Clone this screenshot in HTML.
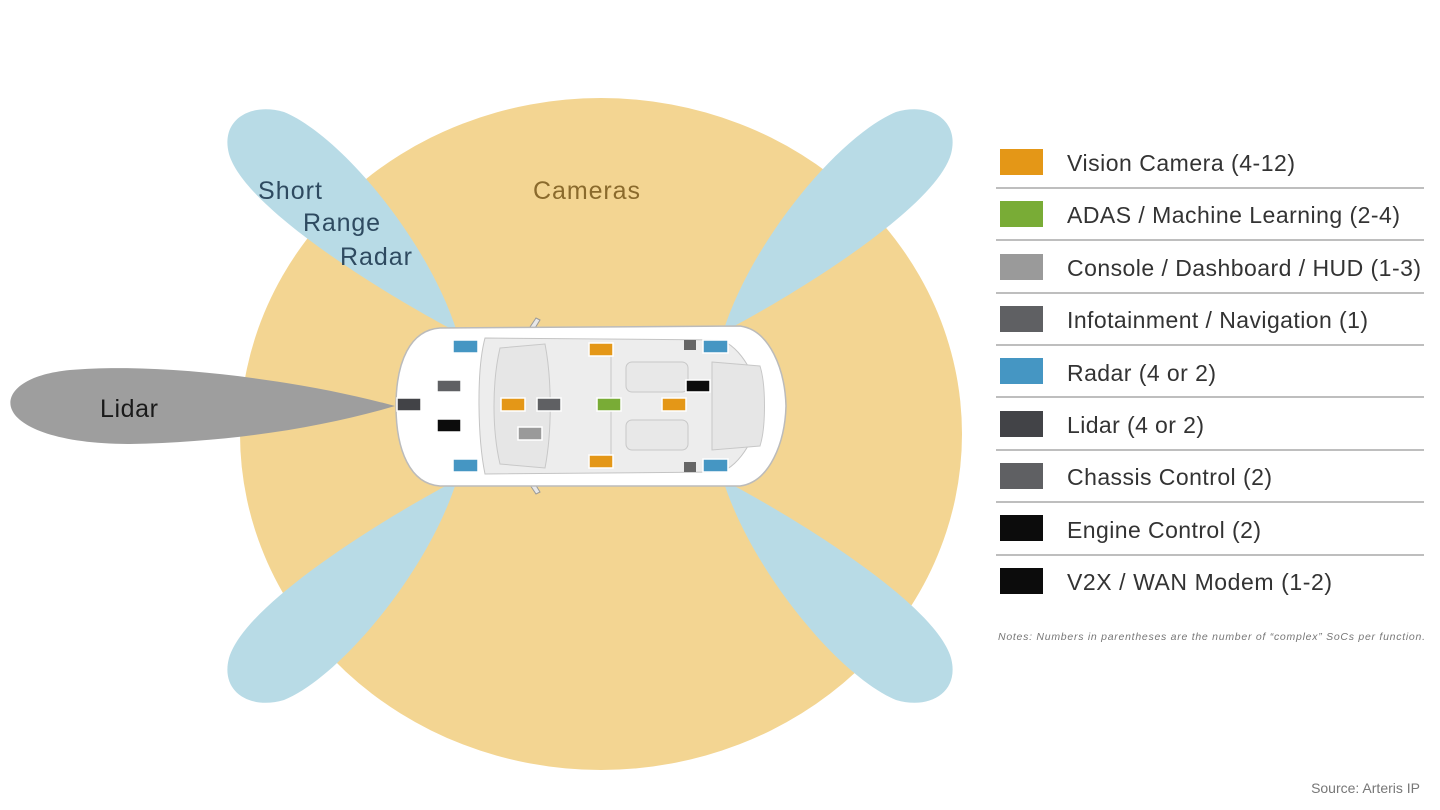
<!DOCTYPE html>
<html><head><meta charset="utf-8"><style>
html,body{margin:0;padding:0;background:#fff;}
svg{display:block;font-family:"Liberation Sans",Arial,sans-serif;}
</style></head><body>
<svg width="1440" height="810" viewBox="0 0 1440 810" xmlns="http://www.w3.org/2000/svg">
<rect width="1440" height="810" fill="#fff"/>
<ellipse cx="601" cy="434" rx="361" ry="336" fill="#f3d592"/>
<g fill="#b8dbe6">
<path id="lobe" d="M457,332 C395,300 245,210 229,154 C220,120 250,102 284,112 C340,135 428,240 457,332 Z"/>
<path transform="translate(1180,0) scale(-1,1)" d="M457,332 C395,300 245,210 229,154 C220,120 250,102 284,112 C340,135 428,240 457,332 Z"/>
<path transform="translate(0,812) scale(1,-1)" d="M457,332 C395,300 245,210 229,154 C220,120 250,102 284,112 C340,135 428,240 457,332 Z"/>
<path transform="translate(1180,812) scale(-1,-1)" d="M457,332 C395,300 245,210 229,154 C220,120 250,102 284,112 C340,135 428,240 457,332 Z"/>
</g>
<path d="M395,406 C300,380 160,362 70,370 C20,375 5,395 12,410 C20,428 60,444 130,444 C230,442 320,428 395,406 Z" fill="#9e9e9e"/>
<g>
<path d="M528,330 L536,318 L540,320 L532,333 Z" fill="#e8e8e8" stroke="#999" stroke-width="1"/>
<path d="M528,482 L536,494 L540,492 L532,479 Z" fill="#e8e8e8" stroke="#999" stroke-width="1"/>
<path d="M440,328 L740,326 C770,330 785,370 786,406 C785,442 770,482 740,486 L440,486 C410,484 396,450 396,406 C396,362 410,330 440,328 Z" fill="#fff" stroke="#bbb" stroke-width="1.5"/>
<path d="M485,338 L720,340 C740,345 760,380 760,406 C760,432 740,467 720,472 L485,474 C478,440 476,372 485,338 Z" fill="#ededed" stroke="#c4c4c4" stroke-width="1"/>
<path d="M500,348 L545,344 C552,380 552,432 545,468 L500,464 C492,430 492,382 500,348 Z" fill="#e6e6e6" stroke="#c8c8c8"/>
<line x1="611" y1="344" x2="611" y2="468" stroke="#c8c8c8"/>
<rect x="626" y="362" width="62" height="30" rx="6" fill="#e8e8e8" stroke="#c8c8c8"/>
<rect x="626" y="420" width="62" height="30" rx="6" fill="#e8e8e8" stroke="#c8c8c8"/>
<path d="M712,362 L760,366 C766,385 766,427 760,446 L712,450 Z" fill="#e6e6e6" stroke="#c8c8c8"/>
<rect x="684" y="340" width="12" height="10" fill="#666"/>
<rect x="684" y="462" width="12" height="10" fill="#666"/>
</g>
<g stroke="#fff" stroke-width="1.5">
<rect x="453" y="340" width="25" height="13" fill="#4596c3"/>
<rect x="453" y="459" width="25" height="13" fill="#4596c3"/>
<rect x="703" y="340" width="25" height="13" fill="#4596c3"/>
<rect x="703" y="459" width="25" height="13" fill="#4596c3"/>
<rect x="589" y="343" width="24" height="13" fill="#e49717"/>
<rect x="589" y="455" width="24" height="13" fill="#e49717"/>
<rect x="501" y="398" width="24" height="13" fill="#e49717"/>
<rect x="662" y="398" width="24" height="13" fill="#e49717"/>
<rect x="597" y="398" width="24" height="13" fill="#79ac36"/>
<rect x="537" y="398" width="24" height="13" fill="#5f6063"/>
<rect x="518" y="427" width="24" height="13" fill="#9a9a9a"/>
<rect x="437" y="380" width="24" height="12" fill="#5f6063"/>
<rect x="397" y="398" width="24" height="13" fill="#424347"/>
<rect x="437" y="419" width="24" height="13" fill="#0c0c0c"/>
<rect x="686" y="380" width="24" height="12" fill="#0c0c0c"/>
</g>
<text x="533" y="199" font-size="25" fill="#8a6a2c" textLength="107">Cameras</text>
<g fill="#2e4a60" font-size="25">
<text x="258" y="199" textLength="64">Short</text>
<text x="303" y="231" textLength="77">Range</text>
<text x="340" y="265" textLength="72">Radar</text>
</g>
<text x="100" y="417" font-size="25" fill="#1a1a1a" textLength="58">Lidar</text>
<g font-size="23" fill="#333">
<rect x="1000" y="149" width="43" height="26" fill="#e49717"/><text x="1067" y="171" textLength="228">Vision Camera (4-12)</text>
<rect x="1000" y="201" width="43" height="26" fill="#79ac36"/><text x="1067" y="223" textLength="333">ADAS / Machine Learning (2-4)</text>
<rect x="1000" y="254" width="43" height="26" fill="#9a9a9a"/><text x="1067" y="276" textLength="354">Console / Dashboard / HUD (1-3)</text>
<rect x="1000" y="306" width="43" height="26" fill="#5f6063"/><text x="1067" y="328" textLength="301">Infotainment / Navigation (1)</text>
<rect x="1000" y="358" width="43" height="26" fill="#4596c3"/><text x="1067" y="381" textLength="149">Radar (4 or 2)</text>
<rect x="1000" y="411" width="43" height="26" fill="#424347"/><text x="1067" y="433" textLength="137">Lidar (4 or 2)</text>
<rect x="1000" y="463" width="43" height="26" fill="#5f6063"/><text x="1067" y="485" textLength="205">Chassis Control (2)</text>
<rect x="1000" y="515" width="43" height="26" fill="#0c0c0c"/><text x="1067" y="538" textLength="194">Engine Control (2)</text>
<rect x="1000" y="568" width="43" height="26" fill="#0c0c0c"/><text x="1067" y="590" textLength="265">V2X / WAN Modem (1-2)</text>
</g>
<g stroke="#a8a8a8" stroke-width="1.5">
<line x1="996" y1="188" x2="1424" y2="188"/>
<line x1="996" y1="240" x2="1424" y2="240"/>
<line x1="996" y1="293" x2="1424" y2="293"/>
<line x1="996" y1="345" x2="1424" y2="345"/>
<line x1="996" y1="397" x2="1424" y2="397"/>
<line x1="996" y1="450" x2="1424" y2="450"/>
<line x1="996" y1="502" x2="1424" y2="502"/>
<line x1="996" y1="555" x2="1424" y2="555"/>
</g>
<text x="998" y="640" font-size="10.5" font-style="italic" fill="#777" textLength="427">Notes: Numbers in parentheses are the number of “complex” SoCs per function.</text>
<text x="1420" y="793" font-size="14" fill="#777" text-anchor="end">Source: Arteris IP</text>
</svg>
</body></html>
